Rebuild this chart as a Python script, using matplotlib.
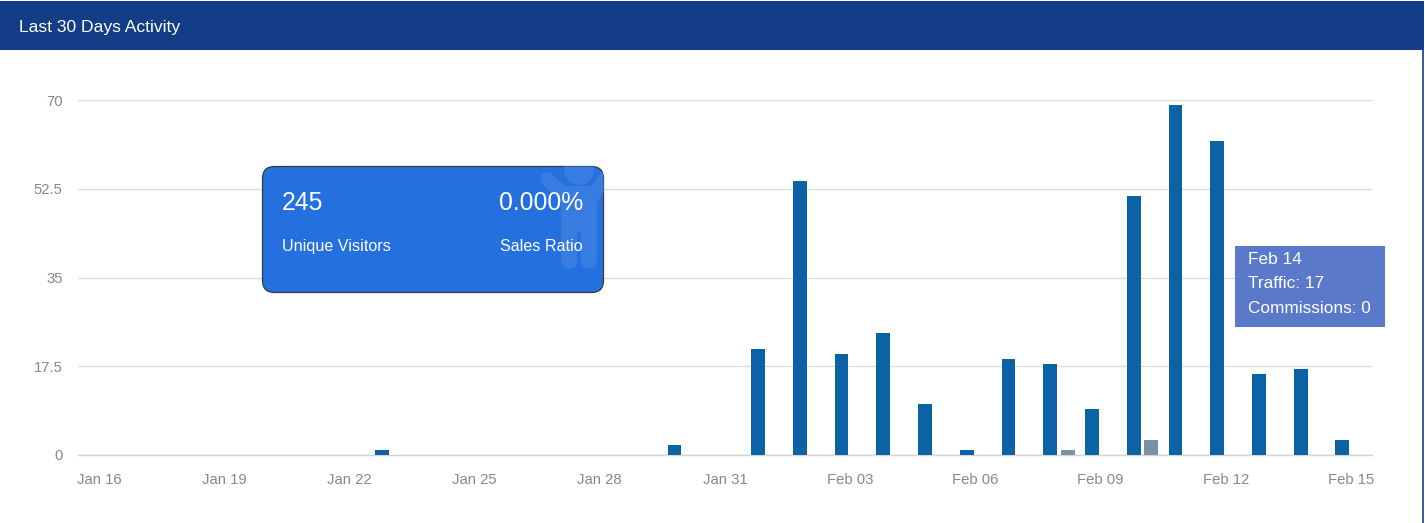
import matplotlib
matplotlib.use("Agg")
import matplotlib.pyplot as plt
from matplotlib.patches import Rectangle, FancyBboxPatch, Circle
from matplotlib.lines import Line2D
import numpy as np

plt.rcParams['font.family'] = ['Liberation Sans', 'DejaVu Sans']

# ---------------- data ----------------
days = ["Jan 16", "Jan 17", "Jan 18", "Jan 19", "Jan 20", "Jan 21", "Jan 22",
        "Jan 23", "Jan 24", "Jan 25", "Jan 26", "Jan 27", "Jan 28", "Jan 29",
        "Jan 30", "Jan 31", "Feb 01", "Feb 02", "Feb 03", "Feb 04", "Feb 05",
        "Feb 06", "Feb 07", "Feb 08", "Feb 09", "Feb 10", "Feb 11", "Feb 12",
        "Feb 13", "Feb 14", "Feb 15"]
traffic = [0, 0, 0, 0, 0, 0, 0, 1, 0, 0, 0, 0, 0, 0, 2, 0, 21, 54, 20, 24, 10,
           1, 19, 18, 9, 51, 69, 62, 16, 17, 3]
commissions = [0, 0, 0, 0, 0, 0, 0, 0, 0, 0, 0, 0, 0, 0, 0, 0, 0, 0, 0, 0, 0,
               0, 0, 1, 0, 3, 0, 0, 0, 0, 0]
y_ticks = [0, 17.5, 35, 52.5, 70]
y_tick_labels = ["0", "17.5", "35", "52.5", "70"]
title = "Last 30 Days Activity"
unique_visitors = "245"
sales_ratio = "0.000%"
tooltip_lines = ["Feb 14", "Traffic: 17", "Commissions: 0"]

# ---------------- figure ----------------
W, H = 1425, 523
fig = plt.figure(figsize=(W / 100, H / 100), dpi=100)
fig.patch.set_facecolor('white')

ax_l, ax_r, ax_t, ax_b = 78, 1372, 100, 455
ax = fig.add_axes([ax_l / W, (H - ax_b) / H, (ax_r - ax_l) / W, (ax_b - ax_t) / H])
x = np.arange(len(days))
bw = 0.33
off = 0.21
ax.bar(x - off, traffic, width=bw, color='#0b62a4', zorder=3)
ax.bar(x + off, commissions, width=bw, color='#7a92a3', zorder=3)
ax.set_xlim(-0.5, len(days) - 0.5)
ax.set_ylim(0, 70)
ax.set_yticks(y_ticks)
ax.set_yticklabels(y_tick_labels)
ax.set_xticks(x[::3])
ax.set_xticklabels(days[::3])
for s in ax.spines.values():
    s.set_visible(False)
ax.tick_params(axis='both', length=0, colors='#888888', labelsize=10.7)
ax.tick_params(axis='y', pad=11)
ax.tick_params(axis='x', pad=13)
ax.yaxis.grid(True, color='#dcdcdc', linewidth=1)
ax.axhline(0, color='#d4d4d4', linewidth=1, clip_on=False, zorder=2)
ax.set_axisbelow(True)
ax.set_facecolor('none')

# ---------------- overlay (pixel coordinates) ----------------
ov = fig.add_axes([0, 0, 1, 1], zorder=10)
ov.set_xlim(0, W)
ov.set_ylim(H, 0)
ov.axis('off')
ov.patch.set_alpha(0)

hdr = '#143d87'
ov.add_patch(Rectangle((0, 1), 1424, 49, color=hdr, lw=0))
ov.add_line(Line2D([1423, 1423], [50, H], color=hdr, lw=1.2))
ov.text(19, 32, title, color='white', fontsize=12.6, va='baseline', ha='left')

# info box
bx0, by0, bx1, by1 = 262.5, 166.5, 603.5, 292.5
box = FancyBboxPatch((bx0, by0), bx1 - bx0, by1 - by0,
                     boxstyle="round,pad=0,rounding_size=12",
                     facecolor='#2570df', edgecolor='#3a3a3a', lw=0.9)
ov.add_patch(box)
ic = '#387ce2'
icon = [
    Circle((579, 170), 15, color=ic, lw=0),
    FancyBboxPatch((561, 186), 36, 46, boxstyle="round,pad=0,rounding_size=6", color=ic, lw=0),
    FancyBboxPatch((561, 222), 16, 46, boxstyle="round,pad=0,rounding_size=7", color=ic, lw=0),
    FancyBboxPatch((581, 222), 16, 46, boxstyle="round,pad=0,rounding_size=7", color=ic, lw=0),
]
for p in icon:
    ov.add_patch(p)
    p.set_clip_path(box)
for (xa, ya) in [([547, 566], [179, 197]), ([592, 607], [197, 176])]:
    ln = Line2D(xa, ya, color=ic, lw=10, solid_capstyle='round')
    ov.add_line(ln)
    ln.set_clip_path(box)

ov.text(282, 210, unique_visitors, color='white', fontsize=17.8, va='baseline', ha='left')
ov.text(583, 210, sales_ratio, color='white', fontsize=17.8, va='baseline', ha='right')
ov.text(282, 251, "Unique Visitors", color='white', fontsize=11.6, va='baseline', ha='left')
ov.text(583, 251, "Sales Ratio", color='white', fontsize=11.6, va='baseline', ha='right')

# tooltip
ov.add_patch(Rectangle((1235, 246), 150, 81, color='#5a7ac9', lw=0))
for i, t in enumerate(tooltip_lines):
    ov.text(1248, 263.5 + i * 24.8, t, color='white', fontsize=12.4, va='baseline', ha='left')

fig.savefig('out.png', dpi=100)
